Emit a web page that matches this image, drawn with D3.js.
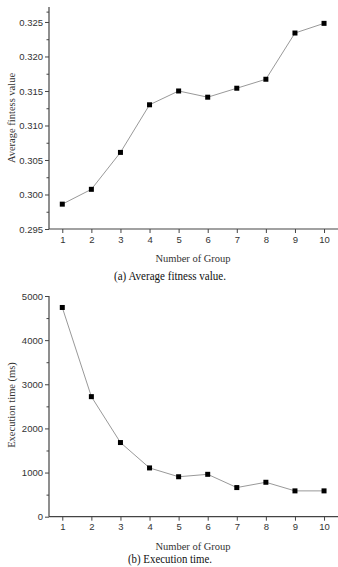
<!DOCTYPE html>
<html><head><meta charset="utf-8">
<script src="https://cdn.jsdelivr.net/npm/d3@7"></script>
<style>
html,body{margin:0;padding:0;background:#fff;}
svg{display:block;}
.tick text{font-family:"Liberation Sans",Arial,sans-serif;font-size:9.5px;fill:#333;}
.ttl{font-family:"Liberation Serif","Times New Roman",serif;fill:#333;}
</style>
</head><body>
<svg id="c" width="338" height="567"></svg>
<script>
const groups = [1,2,3,4,5,6,7,8,9,10];
const fitness = [0.2986,0.30075,0.3061,0.3130,0.3150,0.3141,0.3154,0.3167,0.3234,0.3248];
const execTime = [4740,2720,1680,1105,905,960,660,780,585,585];
const fitTicks = [0.295,0.300,0.305,0.310,0.315,0.320,0.325];
const timeTicks = [0,1000,2000,3000,4000,5000];

const svg = d3.select("#c");

function panel(opt){
  const g = svg.append("g");
  const x = d3.scaleLinear().domain([0.543,10.48]).range([49,338]);
  const y = d3.scaleLinear().domain(opt.yDomain).range(opt.yRange);
  g.append("g").attr("transform","translate(49,0)")
    .call(d3.axisLeft(y).tickValues(opt.minor).tickSize(2.5).tickFormat(""))
    .call(a=>a.select(".domain").remove())
    .selectAll("line").attr("stroke","#444");
  const ya = g.append("g").attr("transform","translate(49,0)")
    .call(d3.axisLeft(y).tickValues(opt.ticks).tickSize(4).tickPadding(2).tickFormat(opt.fmt));
  ya.select(".domain").attr("d",`M0,${opt.yRange[0]}V${opt.yRange[1]}`).attr("stroke","#444").attr("stroke-width",1.2);
  ya.selectAll(".tick line").attr("stroke","#444");
  const xa = g.append("g").attr("transform",`translate(0,${opt.yRange[0]})`)
    .call(d3.axisBottom(x).tickValues(groups).tickSize(4).tickPadding(3).tickFormat(d3.format("d")));
  xa.select(".domain").attr("d","M49,0H338").attr("stroke","#444").attr("stroke-width",1.2);
  xa.selectAll(".tick line").attr("stroke","#444");
  const line = d3.line().x((d,i)=>x(groups[i])).y(d=>y(d));
  g.append("path").datum(opt.values).attr("d",line).attr("fill","none").attr("stroke","#999").attr("stroke-width",1);
  g.selectAll("rect.m").data(opt.values).join("rect").attr("class","m")
    .attr("x",(d,i)=>x(groups[i])-2.5).attr("y",d=>y(d)-2.5).attr("width",5).attr("height",5).attr("fill","#000");
  g.append("text").attr("class","ttl").attr("x",193).attr("y",opt.yRange[0]+33).attr("text-anchor","middle")
    .attr("font-size",10.5).text("Number of Group");
  g.append("text").attr("class","ttl").attr("transform",`translate(15,${opt.ylabY}) rotate(-90)`).attr("text-anchor","middle")
    .attr("font-size",10.5).text(opt.ylabel);
  g.append("text").attr("class","ttl").attr("x",170).attr("y",opt.capY).attr("text-anchor","middle")
    .attr("font-size",12).attr("textLength",opt.capLen).attr("lengthAdjust","spacingAndGlyphs").style("fill","#111").text(opt.caption);
}

panel({
  yDomain:[0.295,0.32717], yRange:[229,7], ticks:fitTicks,
  minor:[0.2975,0.3025,0.3075,0.3125,0.3175,0.3225,0.3265],
  fmt:d3.format(".3f"), values:fitness,
  ylabel:"Average fintess value", ylabY:118,
  caption:"(a) Average fitness value.", capY:280, capLen:112
});
panel({
  yDomain:[0,5000], yRange:[516.7,296], ticks:timeTicks,
  minor:[500,1500,2500,3500,4500],
  fmt:d3.format("d"), values:execTime,
  ylabel:"Execution time (ms)", ylabY:405,
  caption:"(b) Execution time.", capY:563, capLen:84
});
</script>
</body></html>
